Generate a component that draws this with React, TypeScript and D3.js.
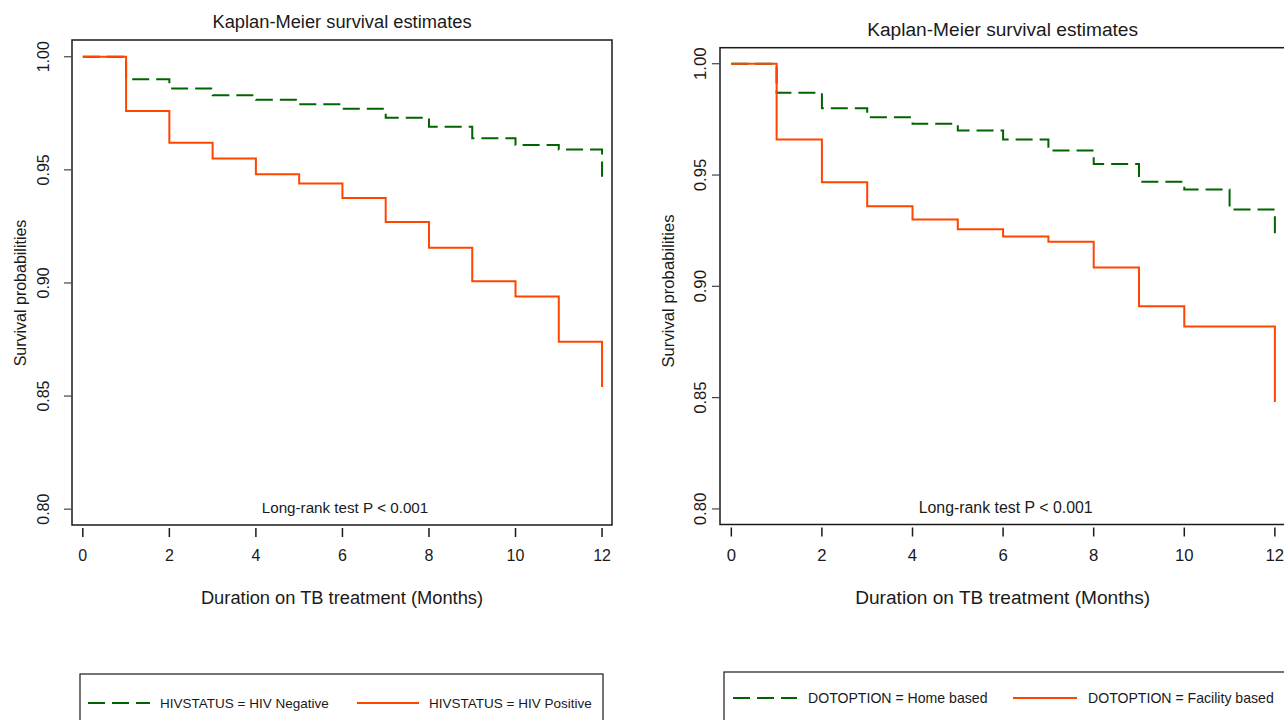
import React from "react";
import * as d3 from "d3";

// months since start of TB treatment
const months = [0, 1, 2, 3, 4, 5, 6, 7, 8, 9, 10, 11, 12];

// survival probability after each month (KM step values)
const hivNegative = [1, 0.990, 0.986, 0.983, 0.981, 0.979, 0.977, 0.973, 0.969, 0.964, 0.961, 0.959, 0.947];
const hivPositive = [1, 0.976, 0.962, 0.955, 0.948, 0.944, 0.9375, 0.927, 0.9156, 0.9007, 0.894, 0.874, 0.854];
const homeBased = [1, 0.987, 0.980, 0.976, 0.973, 0.970, 0.966, 0.961, 0.955, 0.947, 0.9435, 0.9345, 0.921];
const facilityBased = [1, 0.966, 0.9467, 0.936, 0.930, 0.9256, 0.9224, 0.920, 0.9085, 0.891, 0.882, 0.882, 0.848];

const xTicks = [0, 2, 4, 6, 8, 10, 12];
const yTicks = [0.8, 0.85, 0.9, 0.95, 1.0];

const leftLabels = ["HIVSTATUS = HIV Negative", "HIVSTATUS = HIV Positive"];
const rightLabels = ["DOTOPTION = Home based", "DOTOPTION = Facility based"];

const GREEN = "#006400";
const ORANGE = "#ff4500";
const INK = "#1a1a1a";
const FONT = "'Liberation Sans', Arial, Helvetica, sans-serif";
const DASH = "17,7";

type PanelProps = {
  xRange: [number, number];
  yRange: [number, number];
  yTop: number;
  green: number[];
  orange: number[];
  labels: string[];
  s: number; // text scale
  titleY: number;
  yLabelX: number;
  yTitleX: number;
  yTitleY: number;
  legend: { x0: number; x1: number; top: number; y: number; g0: number; gText: number; o0: number; oText: number; sample: number };
};

function Panel(p: PanelProps) {
  const x = d3.scaleLinear().domain([-0.25, 12.23]).range(p.xRange);
  const y = d3.scaleLinear().domain([0.793, p.yTop]).range(p.yRange);
  const line = d3
    .line<number>()
    .x((_, i) => x(months[i]))
    .y((d) => y(d))
    .curve(d3.curveStepAfter);

  const [left, right] = p.xRange;
  const [bottom, top] = p.yRange;
  const cx = (left + right) / 2;
  const lg = p.legend;

  return (
    <g fontFamily={FONT} fill={INK}>
      <text x={cx} y={p.titleY} textAnchor="middle" dominantBaseline="central" fontSize={18.3 * p.s}>
        Kaplan-Meier survival estimates
      </text>

      <path d={line(p.green) || ""} fill="none" stroke={GREEN} strokeWidth={2} strokeDasharray={DASH} />
      <path d={line(p.orange) || ""} fill="none" stroke={ORANGE} strokeWidth={2} />

      <rect x={left} y={top} width={right - left} height={bottom - top} fill="none" stroke={INK} strokeWidth={1.5} />

      {yTicks.map((t) => (
        <g key={t}>
          <line x1={left - 8} x2={left} y1={y(t)} y2={y(t)} stroke="#444" strokeWidth={1.2} />
          <text
            transform={`translate(${p.yLabelX},${y(t)}) rotate(-90)`}
            textAnchor="middle"
            dominantBaseline="central"
            fontSize={16 * p.s}
          >
            {t.toFixed(2)}
          </text>
        </g>
      ))}

      {xTicks.map((t) => (
        <g key={t}>
          <line x1={x(t)} x2={x(t)} y1={bottom + 3} y2={bottom + 12} stroke={INK} strokeWidth={1.5} />
          <text x={x(t)} y={555} textAnchor="middle" dominantBaseline="central" fontSize={16 * p.s}>
            {t}
          </text>
        </g>
      ))}

      <text x={cx} y={597} textAnchor="middle" dominantBaseline="central" fontSize={18.3 * p.s}>
        Duration on TB treatment (Months)
      </text>
      <text
        transform={`translate(${p.yTitleX},${p.yTitleY}) rotate(-90)`}
        textAnchor="middle"
        dominantBaseline="central"
        fontSize={16 * p.s}
      >
        Survival probabilities
      </text>

      <text x={cx + 3} y={507} textAnchor="middle" dominantBaseline="central" fontSize={15.2 * p.s}>
        Long-rank test P &lt; 0.001
      </text>

      {/* legend */}
      <rect x={lg.x0} y={lg.top} width={lg.x1 - lg.x0} height={80} fill="#fff" stroke={INK} strokeWidth={1.2} />
      <line x1={lg.g0} x2={lg.g0 + lg.sample} y1={lg.y} y2={lg.y} stroke={GREEN} strokeWidth={2} strokeDasharray={DASH} />
      <text x={lg.gText} y={lg.y} dominantBaseline="central" fontSize={13.5 * p.s}>
        {p.labels[0]}
      </text>
      <line x1={lg.o0} x2={lg.o0 + lg.sample} y1={lg.y} y2={lg.y} stroke={ORANGE} strokeWidth={2} />
      <text x={lg.oText} y={lg.y} dominantBaseline="central" fontSize={13.5 * p.s}>
        {p.labels[1]}
      </text>
    </g>
  );
}

export default function App() {
  return (
    <svg
      width={1284}
      height={720}
      style={{ position: "absolute", left: 0, top: 0, background: "#fff" }}
    >
      <rect width={1284} height={720} fill="#fff" />
      <Panel
        xRange={[72, 612]}
        yRange={[525, 40]}
        yTop={1.0074}
        green={hivNegative}
        orange={hivPositive}
        labels={leftLabels}
        s={1}
        titleY={21}
        yLabelX={43}
        yTitleX={20}
        yTitleY={293}
        legend={{ x0: 80, x1: 603, top: 674, y: 703, g0: 88, gText: 160, o0: 357, oText: 429, sample: 62 }}
      />
      <Panel
        xRange={[720, 1285.3]}
        yRange={[524.5, 47.7]}
        yTop={1.0072}
        green={homeBased}
        orange={facilityBased}
        labels={rightLabels}
        s={1.045}
        titleY={29.5}
        yLabelX={700}
        yTitleX={668}
        yTitleY={291}
        legend={{ x0: 724, x1: 1300, top: 672, y: 698, g0: 733, gText: 808, o0: 1013, oText: 1088, sample: 64 }}
      />
    </svg>
  );
}
